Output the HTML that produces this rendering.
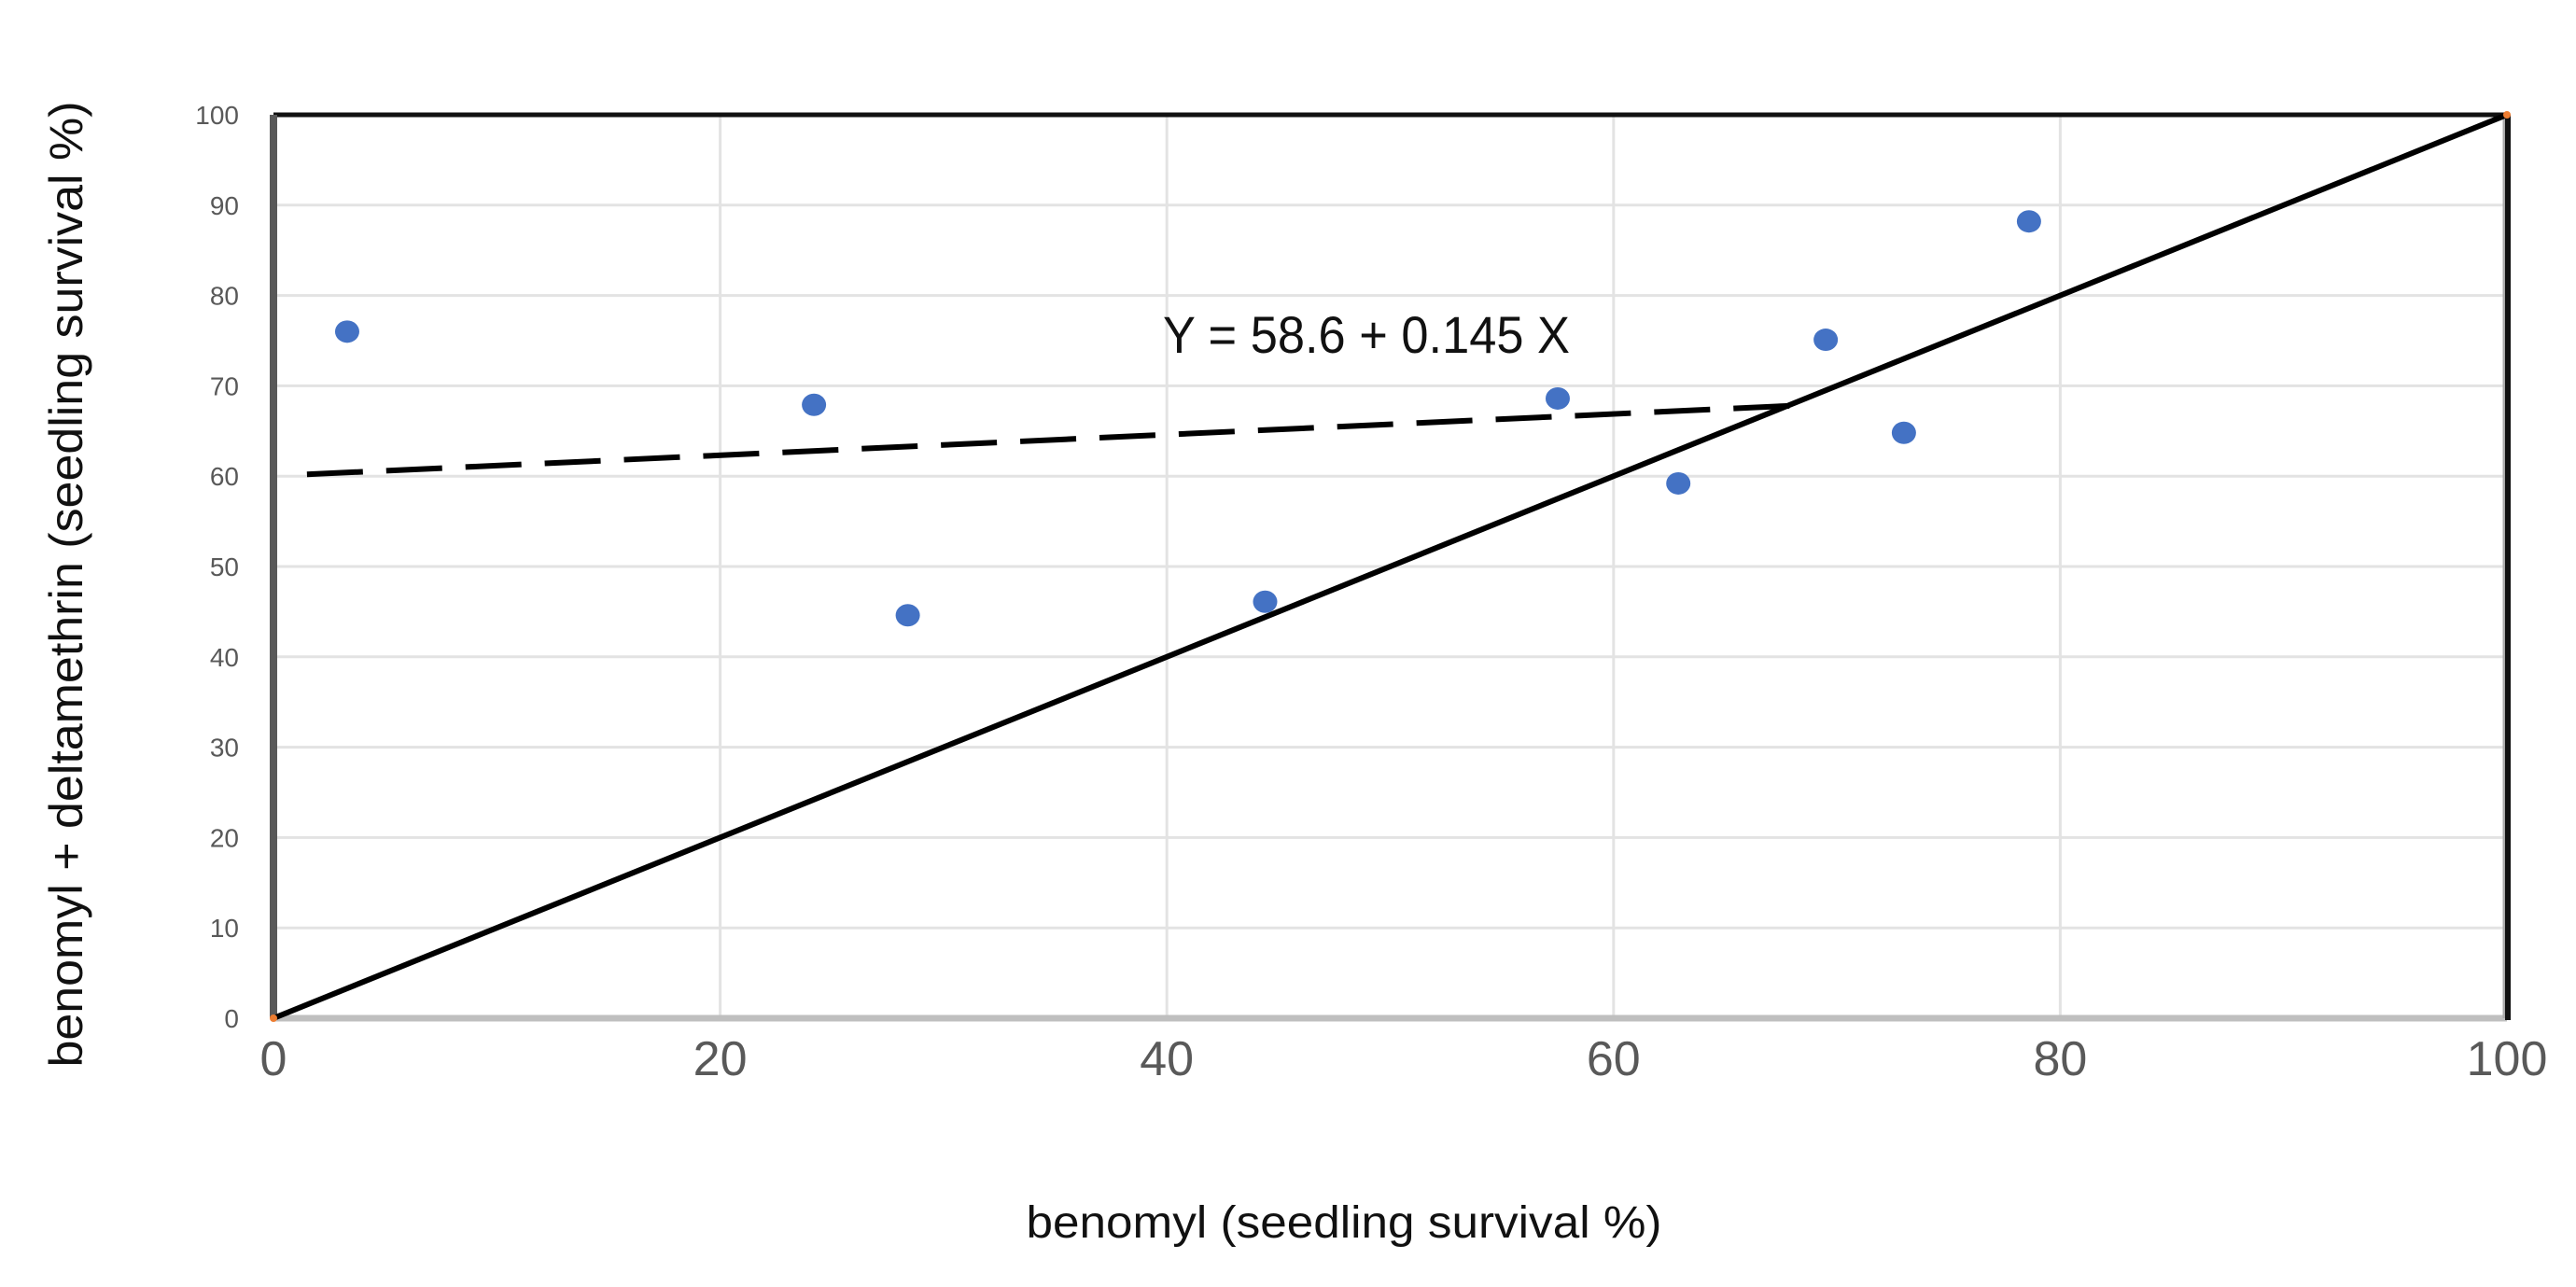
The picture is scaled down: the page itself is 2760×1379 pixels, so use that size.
<!DOCTYPE html>
<html><head><meta charset="utf-8"><style>
html,body{margin:0;padding:0;background:#fff;}
svg{display:block;font-family:"Liberation Sans",sans-serif;}
</style></head><body>
<svg id="chart" width="2760" height="1379" viewBox="0 0 2760 1379" xmlns="http://www.w3.org/2000/svg">
<g id="grid"></g>
<g id="axes"></g>
<g id="marks"></g>
<text x="1246" y="378" font-size="56" fill="#111" textLength="436" lengthAdjust="spacingAndGlyphs">Y = 58.6 + 0.145 X</text>
<text x="1440" y="1326" font-size="48" fill="#111" text-anchor="middle" textLength="681" lengthAdjust="spacingAndGlyphs">benomyl (seedling survival %)</text>
<text transform="translate(88,626) rotate(-90)" font-size="50" fill="#111" text-anchor="middle" textLength="1035" lengthAdjust="spacingAndGlyphs">benomyl + deltamethrin (seedling survival %)</text>
</svg>
<script>
const xVals = [3.3, 24.2, 28.4, 44.4, 57.5, 62.9, 69.5, 73.0, 78.6];
const yVals = [76.0, 67.9, 44.6, 46.1, 68.6, 59.2, 75.1, 64.8, 88.2];
const trendX = [1.5, 68];
const trendY = [60.2, 67.8];
const identityX = [0, 100];
const identityY = [0, 100];
const xTicks = [0, 20, 40, 60, 80, 100];
const yTicks = [0, 10, 20, 30, 40, 50, 60, 70, 80, 90, 100];

const L = 293, R = 2686, T = 123, B = 1091;
const sx = v => L + (v / 100) * (R - L);
const sy = v => B - (v / 100) * (B - T);
const NS = "http://www.w3.org/2000/svg";
function mk(tag, attrs, parent) {
  const e = document.createElementNS(NS, tag);
  for (const k in attrs) e.setAttribute(k, attrs[k]);
  parent.appendChild(e);
  return e;
}
const grid = document.getElementById('grid');
const axes = document.getElementById('axes');
const marks = document.getElementById('marks');

yTicks.forEach(t => {
  if (t > 0 && t < 100) {
    const g = mk('line', {x1: L, x2: R, y1: sy(t), y2: sy(t), stroke: '#e3e3e3', 'stroke-width': 3}, grid);
    
    
  }
  const lb = mk('text', {x: 256, y: sy(t) + 10, 'font-size': 28, fill: '#595959', 'text-anchor': 'end'}, axes);
  
  
  lb.textContent = t;
});
xTicks.forEach(t => {
  if (t > 0 && t < 100) {
    const g = mk('line', {x1: sx(t), x2: sx(t), y1: T, y2: B, stroke: '#e3e3e3', 'stroke-width': 3}, grid);
    
    
  }
  const lb = mk('text', {x: sx(t), y: 1152, 'font-size': 52, fill: '#595959', 'text-anchor': 'middle'}, axes);
  
  
  lb.textContent = t;
});

let e;
e = mk('line', {x1: L, x2: R, y1: B, y2: B, stroke: '#bfbfbf', 'stroke-width': 7}, axes);


e = mk('line', {x1: L, x2: R, y1: T, y2: T, stroke: '#111', 'stroke-width': 5}, axes);


e = mk('line', {x1: L, x2: L, y1: T, y2: B, stroke: '#595959', 'stroke-width': 8}, axes);


e = mk('line', {x1: R - 3, x2: R - 3, y1: T, y2: B, stroke: '#aaa', 'stroke-width': 3}, axes);


e = mk('line', {x1: R + 1, x2: R + 1, y1: T, y2: B + 2, stroke: '#111', 'stroke-width': 6}, axes);



e = mk('line', {x1: sx(identityX[0]), y1: sy(identityY[0]), x2: sx(identityX[1]), y2: sy(identityY[1]), stroke: '#000', 'stroke-width': 6}, marks);



e = mk('line', {x1: sx(trendX[0]), y1: sy(trendY[0]), x2: sx(trendX[1]), y2: sy(trendY[1]), stroke: '#000', 'stroke-width': 6, 'stroke-dasharray': '60 25'}, marks);



identityX.forEach((x, i) => {
  const o = mk('circle', {cx: sx(x), cy: sy(identityY[i]), r: 4, fill: '#ed7d31'}, marks);
  
  
});

xVals.forEach((x, i) => {
  const c = mk('ellipse', {cx: sx(x), cy: sy(yVals[i]), rx: 13, ry: 12, fill: '#4472c4'}, marks);
  
  
});
</script>
</body></html>
